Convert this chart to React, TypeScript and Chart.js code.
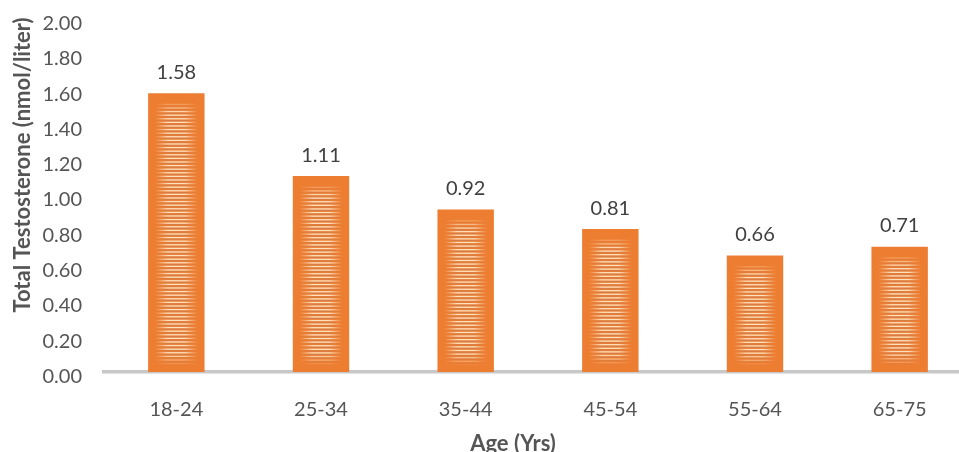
import React, { useEffect, useRef } from "react";
import { Chart, registerables } from "chart.js";

Chart.register(...registerables);

const ageGroups = ["18-24", "25-34", "35-44", "45-54", "55-64", "65-75"];
const totalTestosterone = [1.58, 1.11, 0.92, 0.81, 0.66, 0.71];
const yMin = 0;
const yMax = 2;
const yStep = 0.2;
const yAxisTitle = "Total Testosterone (nmol/liter)";
const xAxisTitle = "Age (Yrs)";

const FONT = "Lato, 'Open Sans', sans-serif";
const BAR_COLOR = "#ED7D31";
const TEXT_COLOR = "#555555";

const stripesPlugin = {
  id: "stripes",
  afterDatasetsDraw(chart: any) {
    const ctx = chart.ctx as CanvasRenderingContext2D;
    const meta = chart.getDatasetMeta(0);
    meta.data.forEach((bar: any) => {
      const { x, y, base, width } = bar.getProps(["x", "y", "base", "width"], true);
      const left = x - width / 2;
      const right = x + width / 2;
      const top = y + 7;
      const bottom = base - 7;
      if (bottom <= top) return;
      const mk = (r: number, g: number, b: number, a: number) => {
        const gr = ctx.createLinearGradient(left, 0, right, 0);
        gr.addColorStop(0, `rgba(${r},${g},${b},0)`);
        gr.addColorStop(0.12, `rgba(${r},${g},${b},0)`);
        gr.addColorStop(0.35, `rgba(${r},${g},${b},${a})`);
        gr.addColorStop(0.65, `rgba(${r},${g},${b},${a})`);
        gr.addColorStop(0.88, `rgba(${r},${g},${b},0)`);
        gr.addColorStop(1, `rgba(${r},${g},${b},0)`);
        return gr;
      };
      const light = mk(255, 236, 205, 0.9);
      const dark = mk(175, 125, 105, 0.45);
      ctx.save();
      ctx.beginPath();
      ctx.rect(left, y, width, base - y);
      ctx.clip();
      const period = 3.6;
      const fade = 12;
      for (let s = top; s < bottom; s += period) {
        const a = Math.min(1, (s - top) / fade, (bottom - s) / fade);
        ctx.globalAlpha = Math.max(0, a);
        ctx.fillStyle = light;
        ctx.fillRect(left, s, width, 1.3);
        ctx.fillStyle = dark;
        ctx.fillRect(left, s + 1.8, width, 1);
      }
      ctx.restore();
    });
  },
};

const valueLabelsPlugin = {
  id: "valueLabels",
  afterDatasetsDraw(chart: any) {
    const ctx = chart.ctx as CanvasRenderingContext2D;
    const meta = chart.getDatasetMeta(0);
    const data = chart.data.datasets[0].data as number[];
    ctx.save();
    ctx.font = `20px ${FONT}`;
    ctx.fillStyle = "#404040";
    ctx.textAlign = "center";
    ctx.textBaseline = "alphabetic";
    meta.data.forEach((bar: any, i: number) => {
      const { x, y } = bar.getProps(["x", "y"], true);
      ctx.fillText(data[i].toFixed(2), x, y - 14.5);
    });
    ctx.restore();
  },
};

const axisTitlesPlugin = {
  id: "axisTitles",
  afterDraw(chart: any) {
    const ctx = chart.ctx as CanvasRenderingContext2D;
    const area = chart.chartArea;
    ctx.save();
    ctx.font = `bold 22px ${FONT}`;
    ctx.fillStyle = TEXT_COLOR;
    ctx.textAlign = "center";
    ctx.textBaseline = "alphabetic";
    ctx.fillText(xAxisTitle, (area.left + area.right) / 2 - 25, area.bottom + 79);
    ctx.translate(chart.scales.y.left + 30, (area.top + area.bottom) / 2 - 30.5);
    ctx.rotate(-Math.PI / 2);
    ctx.fillText(yAxisTitle, 0, 0);
    ctx.restore();
  },
};

export default function App() {
  const canvasRef = useRef<HTMLCanvasElement | null>(null);

  useEffect(() => {
    if (!canvasRef.current) return;
    const chart = new Chart(canvasRef.current, {
      type: "bar",
      data: {
        labels: ageGroups,
        datasets: [
          {
            data: totalTestosterone,
            backgroundColor: BAR_COLOR,
            borderWidth: 0,
            categoryPercentage: 1,
            barPercentage: 0.39,
          },
        ],
      },
      options: {
        responsive: false,
        animation: false,
        layout: { padding: { top: 19, right: 0, left: 0, bottom: 0 } },
        plugins: {
          legend: { display: false },
          tooltip: { enabled: false },
          title: { display: false },
        },
        scales: {
          x: {
            z: 1,
            grid: { display: false, drawTicks: false },
            border: { display: true, color: "#c8c8c8", width: 3.5 },
            ticks: {
              color: TEXT_COLOR,
              font: { family: FONT, size: 20 },
              padding: 26,
              maxRotation: 0,
            },
            afterFit(scale: any) {
              scale.height = 92;
              scale.paddingLeft = 0;
              scale.paddingRight = 0;
            },
          },
          y: {
            min: yMin,
            max: yMax,
            grid: { display: false, drawTicks: false },
            border: { display: false },
            ticks: {
              stepSize: yStep,
              color: TEXT_COLOR,
              font: { family: FONT, size: 20 },
              padding: 22,
              labelOffset: 4.5,
              callback: (v: any) => Number(v).toFixed(2),
            },
            afterFit(scale: any) {
              scale.width = 104;
              scale.paddingTop = 0;
              scale.paddingBottom = 0;
            },
          },
        },
      },
      plugins: [stripesPlugin, valueLabelsPlugin, axisTitlesPlugin],
    });
    return () => chart.destroy();
  }, []);

  return (
    <div
      style={{
        position: "fixed",
        left: 0,
        top: 0,
        width: 959,
        height: 452,
        overflow: "hidden",
        background: "#ffffff",
      }}
    >
      <canvas ref={canvasRef} width={972} height={464} style={{ display: "block" }} />
    </div>
  );
}
